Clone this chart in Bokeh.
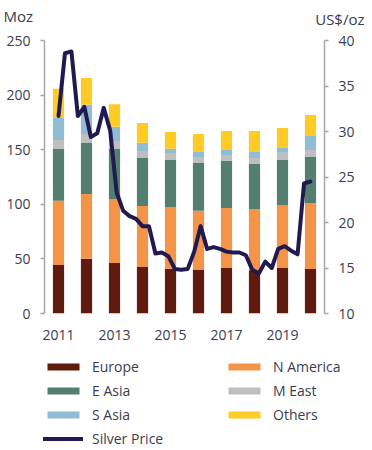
from bokeh.plotting import figure
from bokeh.models import (Range1d, LinearAxis, FixedTicker, SingleIntervalTicker,
                          Legend, LegendItem, ColumnDataSource)
from bokeh.core.properties import value
from bokeh.embed import file_html
from bokeh.resources import INLINE

# ---- data ----
years = [2011, 2012, 2013, 2014, 2015, 2016, 2017, 2018, 2019, 2020]
europe    = [44.5, 50.2, 46.2, 42.6, 41.0, 39.8, 41.7, 39.5, 41.7, 40.8]
n_america = [58.8, 59.2, 58.6, 55.9, 56.5, 54.3, 54.9, 56.2, 57.7, 60.4]
e_asia    = [47.3, 46.7, 45.8, 44.3, 43.1, 43.7, 43.1, 41.2, 41.2, 42.1]
m_east    = [8.3, 8.3, 7.4, 6.0, 5.8, 5.5, 5.4, 5.5, 6.7, 6.4]
s_asia    = [20.1, 26.8, 13.0, 7.6, 4.5, 4.6, 4.6, 5.5, 4.3, 12.8]
others    = [26.9, 24.5, 20.6, 18.0, 15.3, 16.5, 17.4, 19.2, 18.3, 19.3]

# quarterly silver price, Q1 2011 .. Q4 2020 (US$/oz)
silver_price = [31.7, 38.6, 38.8, 31.7,
                32.7, 29.4, 29.8, 32.6,
                30.1, 23.3, 21.3, 20.7,
                20.4, 19.6, 19.6, 16.6,
                16.7, 16.3, 14.9, 14.8,
                14.9, 16.8, 19.6, 17.1,
                17.3, 17.1, 16.8, 16.7,
                16.7, 16.4, 14.8, 14.4,
                15.7, 15.0, 17.1, 17.4,
                16.9, 16.5, 24.3, 24.5]

year_ticks = [2011, 2013, 2015, 2017, 2019]
left_ticks_interval = 50
right_ticks_interval = 5
left_unit = "Moz"
right_unit = "US$/oz"

series_names = ["Europe", "N America", "E Asia", "M East", "S Asia", "Others"]
series_cols = ["europe", "n_america", "e_asia", "m_east", "s_asia", "others"]
price_name = "Silver Price"
colors = ["#5e1b0e", "#f39449", "#547e6f", "#bfbfbf", "#91bcd4", "#ffcb25"]
line_color = "#211a51"
text_color = "#3c3c4c"
FONT = "Open Sans"
W = 364

src = ColumnDataSource(dict(year=years, europe=europe, n_america=n_america, e_asia=e_asia,
                            m_east=m_east, s_asia=s_asia, others=others))

n = len(silver_price)
span = years[-1] - years[0]
price_x = [years[0] + i * span / (n - 1) for i in range(n)]
price_src = ColumnDataSource(dict(x=price_x, price=silver_price))


def bare_fig(h, xr, yr):
    fig = figure(width=W, height=h, x_range=xr, y_range=yr, title=None,
                 x_axis_location=None, y_axis_location=None,
                 output_backend="svg", toolbar_location=None, min_border=0)
    fig.outline_line_color = None
    fig.xgrid.visible = False
    fig.ygrid.visible = False
    fig.background_fill_color = None
    fig.border_fill_color = None
    return fig


# ---- header with unit labels ----
HEAD_H = 32
head = bare_fig(HEAD_H, Range1d(0, W), Range1d(0, HEAD_H))
head.text(x=[3], y=[HEAD_H - 15], text=[left_unit], text_align="left",
          text_baseline="middle", text_font=value(FONT), text_font_size="15px",
          text_color=text_color)
head.text(x=[W], y=[HEAD_H - 18], text=[right_unit], text_align="right",
          text_baseline="middle", text_font=value(FONT), text_font_size="15px",
          text_color=text_color)

# ---- main chart ----
p = figure(frame_width=280, frame_height=273, title=None,
           x_range=Range1d(years[0] - 0.5, years[-1] + 0.5),
           y_range=Range1d(0, 250),
           output_backend="svg", toolbar_location=None,
           min_border_left=44, min_border_right=40, min_border_top=8, min_border_bottom=37)
p.extra_y_ranges = {"price": Range1d(10, 40)}
p.outline_line_color = None
p.xgrid.visible = False
p.ygrid.visible = False

bars = p.vbar_stack(series_cols, x="year", width=0.4, fill_color=colors,
                    line_color=None, source=src)
line = p.line(x="x", y="price", source=price_src, y_range_name="price",
              line_color=line_color, line_width=4, line_join="round", line_cap="round")


def style_axis(ax):
    ax.axis_line_color = "#a6a6a6"
    ax.axis_line_width = 1.5
    ax.major_tick_line_color = "#a6a6a6"
    ax.major_tick_line_width = 1.5
    ax.major_tick_in = 0
    ax.major_tick_out = 4
    ax.minor_tick_line_color = None
    ax.major_label_text_font = FONT
    ax.major_label_text_font_size = "14px"
    ax.major_label_text_color = text_color
    ax.major_label_standoff = 10


yl = p.yaxis[0]
style_axis(yl)
yl.ticker = SingleIntervalTicker(interval=left_ticks_interval)

yr = LinearAxis(y_range_name="price", ticker=SingleIntervalTicker(interval=right_ticks_interval))
style_axis(yr)
p.add_layout(yr, "right")

xa = p.xaxis[0]
xa.ticker = FixedTicker(ticks=year_ticks)
xa.axis_line_color = None
xa.major_tick_line_color = None
xa.minor_tick_line_color = None
xa.major_label_text_font = FONT
xa.major_label_text_font_size = "14px"
xa.major_label_text_color = text_color
xa.major_label_standoff = 10

# ---- legend panel (legend handles styled like the chart's renderers, kept off-view) ----
LEG_H = 98
leg = bare_fig(LEG_H, Range1d(0, 1), Range1d(0, 1))
sw = [leg.vbar(x=[-1], top=[-1], width=0.1, fill_color=c, line_color=None) for c in colors]
sl = leg.line(x=[-2, -1], y=[-1, -1], line_color=line_color, line_width=4, line_cap="round")
items = [LegendItem(label=series_names[i], renderers=[sw[i]]) for i in range(6)]
items.append(LegendItem(label=price_name, renderers=[sl]))
legend = Legend(items=items, orientation="horizontal", ncols=2, location=(43, 0),
                glyph_width=40, glyph_height=9, label_standoff=9, label_width=127,
                label_height=19, spacing=5, padding=0, margin=0,
                label_text_font=FONT, label_text_font_size="14px",
                label_text_color=text_color, border_line_color=None,
                background_fill_alpha=0)
leg.add_layout(legend, "center")

open("out.html", "w").write(file_html([head, p, leg], INLINE))
